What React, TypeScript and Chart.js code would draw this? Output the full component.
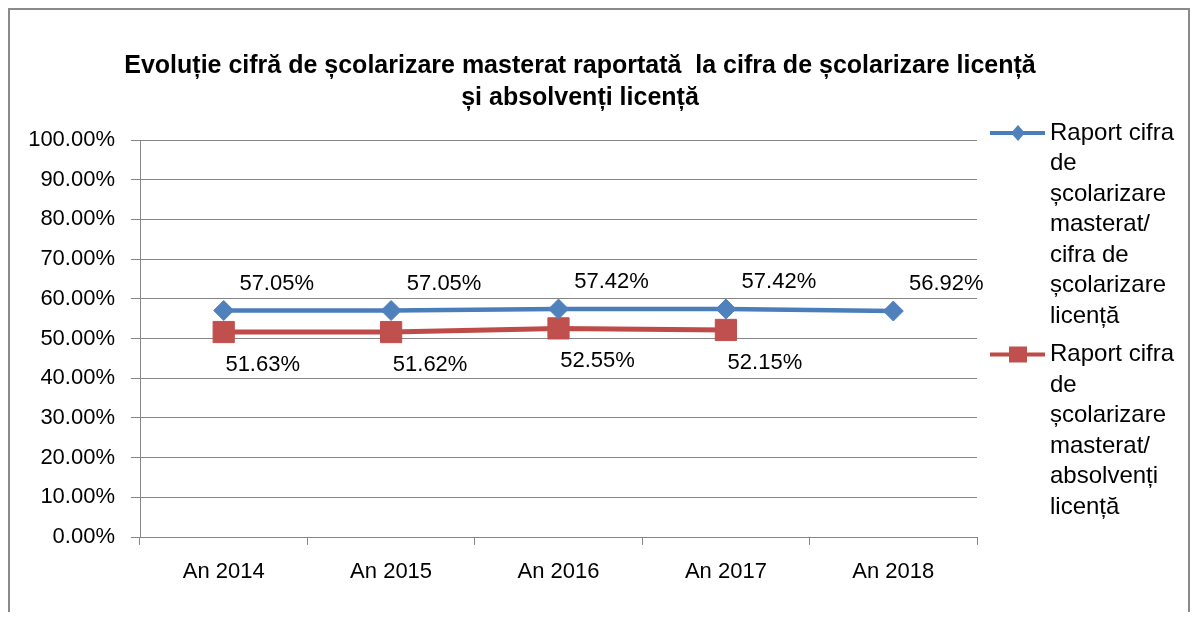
import React, { useEffect, useRef } from "react";
import { Chart, registerables } from "chart.js";
Chart.register(...registerables);

const categories = ["An 2014", "An 2015", "An 2016", "An 2017", "An 2018"];
const raportLicenta: (number | null)[] = [57.05, 57.05, 57.42, 57.42, 56.92];
const raportAbsolventi: (number | null)[] = [51.63, 51.62, 52.55, 52.15, null];
const yTickValues = [0, 10, 20, 30, 40, 50, 60, 70, 80, 90, 100];
const titleLines = [
  "Evoluție cifră de școlarizare masterat raportată  la cifra de școlarizare licență",
  "și absolvenți licență",
];
const legendLines = [
  ["Raport cifra", "de", "școlarizare", "masterat/", "cifra de", "școlarizare", "licență"],
  ["Raport cifra", "de", "școlarizare", "masterat/", "absolvenți", "licență"],
];

const FONT = "'Liberation Sans', Arial, sans-serif";
const BLUE_LINE = "#4A7EBB";
const BLUE_FILL = "#4F81BD";
const RED_LINE = "#BE4B48";
const RED_FILL = "#C0504D";
const GRID = "#868686";

const W = 1178;
const H = 602;

const titlePlugin = {
  id: "customTitle",
  afterDraw(chart: any) {
    const ctx = chart.ctx;
    ctx.save();
    ctx.font = `bold 25px ${FONT}`;
    ctx.fillStyle = "#000";
    ctx.textAlign = "center";
    ctx.textBaseline = "middle";
    titleLines.forEach((t, i) => ctx.fillText(t, 570, 56 + i * 32));
    ctx.restore();
  },
};

const labelPlugin = {
  id: "pointLabels",
  afterDatasetsDraw(chart: any) {
    const ctx = chart.ctx;
    const offsets = [
      { dx: 53, dy: -27 },
      { dx: 39, dy: 33 },
    ];
    ctx.save();
    ctx.font = `22px ${FONT}`;
    ctx.fillStyle = "#000";
    ctx.textAlign = "center";
    ctx.textBaseline = "middle";
    chart.data.datasets.forEach((ds: any, di: number) => {
      const meta = chart.getDatasetMeta(di);
      meta.data.forEach((pt: any, i: number) => {
        const v = ds.data[i];
        if (v === null || v === undefined) return;
        ctx.fillText(`${v.toFixed(2)}%`, pt.x + offsets[di].dx, pt.y + offsets[di].dy);
      });
    });
    ctx.restore();
  },
};

const legendPlugin = {
  id: "wrapLegend",
  afterDraw(chart: any) {
    const ctx = chart.ctx;
    const lineH = 30.5;
    let y = 123;
    const styles = [
      { line: BLUE_LINE, fill: BLUE_FILL, shape: "diamond" },
      { line: RED_LINE, fill: RED_FILL, shape: "square" },
    ];
    ctx.save();
    legendLines.forEach((lines, ei) => {
      const s = styles[ei];
      ctx.strokeStyle = s.line;
      ctx.lineWidth = 4;
      ctx.beginPath();
      ctx.moveTo(980, y);
      ctx.lineTo(1035, y);
      ctx.stroke();
      ctx.fillStyle = s.fill;
      const cx = 1008;
      if (s.shape === "diamond") {
        ctx.beginPath();
        ctx.moveTo(cx - 7, y);
        ctx.lineTo(cx, y - 8);
        ctx.lineTo(cx + 7, y);
        ctx.lineTo(cx, y + 8);
        ctx.closePath();
        ctx.fill();
      } else {
        ctx.fillRect(cx - 9, y - 8, 18, 16);
      }
      ctx.fillStyle = "#000";
      ctx.font = `24px ${FONT}`;
      ctx.textAlign = "left";
      ctx.textBaseline = "middle";
      lines.forEach((t, li) => ctx.fillText(t, 1040, y + li * lineH));
      y += lines.length * lineH + 8;
    });
    ctx.restore();
  },
};

export default function App() {
  const ref = useRef<HTMLCanvasElement | null>(null);
  useEffect(() => {
    if (!ref.current) return;
    const chart = new Chart(ref.current, {
      type: "line",
      data: {
        labels: categories,
        datasets: [
          {
            label: "Raport cifra de școlarizare masterat/ cifra de școlarizare licență",
            data: raportLicenta,
            borderColor: BLUE_LINE,
            backgroundColor: BLUE_FILL,
            borderWidth: 4.5,
            pointStyle: "rectRot",
            pointRadius: 10,
            pointHoverRadius: 10,
            pointBackgroundColor: BLUE_FILL,
            pointBorderColor: BLUE_FILL,
            pointBorderWidth: 1,
            tension: 0,
          },
          {
            label: "Raport cifra de școlarizare masterat/ absolvenți licență",
            data: raportAbsolventi,
            borderColor: RED_LINE,
            backgroundColor: RED_FILL,
            borderWidth: 5,
            pointStyle: "rect",
            pointRadius: 15,
            pointHoverRadius: 15,
            pointBackgroundColor: RED_FILL,
            pointBorderColor: RED_FILL,
            pointBorderWidth: 1,
            tension: 0,
          },
        ],
      },
      options: {
        responsive: false,
        animation: false,
        devicePixelRatio: 1,
        layout: { padding: { left: 0, right: 211, top: 130, bottom: 0 } },
        plugins: {
          legend: { display: false },
          title: { display: false },
          tooltip: { enabled: false },
        },
        scales: {
          x: {
            type: "category",
            offset: true,
            grid: {
              offset: true,
              drawOnChartArea: false,
              drawTicks: true,
              tickLength: 8,
              color: GRID,
            },
            border: { display: true, color: GRID, width: 1 },
            ticks: {
              color: "#000",
              font: { family: FONT, size: 22 },
              padding: 14,
              maxRotation: 0,
            },
            afterFit(scale: any) {
              scale.height = 75;
            },
          },
          y: {
            min: 0,
            max: 100,
            afterBuildTicks(scale: any) {
              scale.ticks = yTickValues.map((v) => ({ value: v }));
            },
            grid: {
              color: GRID,
              lineWidth: 1,
              drawTicks: true,
              tickLength: 9,
            },
            border: { display: true, color: GRID, width: 1 },
            ticks: {
              color: "#000",
              font: { family: FONT, size: 22 },
              padding: 16,
              callback: (v: any) => `${Number(v).toFixed(2)}%`,
            },
            afterFit(scale: any) {
              scale.width = 130;
            },
          },
        },
      },
      plugins: [titlePlugin, labelPlugin, legendPlugin],
    });
    return () => chart.destroy();
  }, []);

  return (
    <div
      style={{
        width: 1182,
        height: 604,
        boxSizing: "border-box",
        borderTop: "2px solid #8a8a8a",
        borderLeft: "2px solid #8a8a8a",
        borderRight: "2px solid #8a8a8a",
        background: "#fff",
        overflow: "hidden",
      }}
    >
      <canvas ref={ref} width={W} height={H} style={{ width: W, height: H, display: "block" }} />
    </div>
  );
}
